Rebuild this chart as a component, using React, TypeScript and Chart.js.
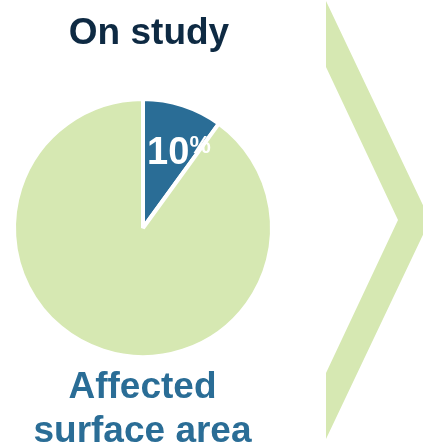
import React, { useEffect, useRef } from 'react';
import { Chart, registerables } from 'chart.js';

Chart.register(...registerables);

const sliceLabels = ['Affected surface area', 'Unaffected'];
const sliceValues = [10, 90];
const sliceColors = ['#2a6d96', '#d6e8b2'];
const titleText = 'On study';
const captionLines = ['Affected', 'surface area'];
const valueSuffix = '%';
const chevronColor = '#d6e8b2';
const chevronPoints: [number, number][] = [
  [326, 1], [430, 220], [326, 439], [326, 373], [398, 220], [326, 67],
];

const FONT = '"Liberation Sans", Arial, sans-serif';

const chevronPlugin = {
  id: 'chevron',
  beforeDraw(chart: any) {
    const ctx = chart.ctx;
    ctx.save();
    ctx.fillStyle = chevronColor;
    ctx.beginPath();
    chevronPoints.forEach(([x, y], i) => (i === 0 ? ctx.moveTo(x, y) : ctx.lineTo(x, y)));
    ctx.closePath();
    ctx.fill();
    ctx.restore();
  },
};

const sliceLabelPlugin = {
  id: 'sliceLabel',
  afterDatasetsDraw(chart: any) {
    const meta = chart.getDatasetMeta(0);
    const el = meta.data[0];
    if (!el) return;
    const { x, y, startAngle, endAngle, outerRadius } = el.getProps(
      ['x', 'y', 'startAngle', 'endAngle', 'outerRadius'], true);
    const a = startAngle + 0.69 * (endAngle - startAngle);
    const r = outerRadius * 0.663;
    const ax = x + Math.cos(a) * r;
    const ay = y + Math.sin(a) * r;
    const ctx = chart.ctx;
    ctx.save();
    ctx.fillStyle = '#ffffff';
    ctx.textBaseline = 'alphabetic';
    ctx.textAlign = 'left';
    const big = 'bold 38px ' + FONT;
    const small = 'bold 24px ' + FONT;
    const num = String(sliceValues[0]);
    ctx.font = big;
    const w1 = ctx.measureText(num).width;
    ctx.font = small;
    const w2 = ctx.measureText(valueSuffix).width;
    const sx = ax - (w1 + w2) / 2;
    ctx.font = big;
    ctx.fillText(num, sx, ay + 13.5);
    ctx.font = small;
    ctx.fillText(valueSuffix, sx + w1, ay + 2.5);
    ctx.restore();
  },
};

export default function App() {
  const ref = useRef<HTMLCanvasElement>(null);
  useEffect(() => {
    if (!ref.current) return;
    const chart = new Chart(ref.current, {
      type: 'pie',
      data: {
        labels: sliceLabels,
        datasets: [{ data: sliceValues, backgroundColor: sliceColors, borderColor: '#ffffff', borderWidth: 4 }],
      },
      options: {
        responsive: false,
        animation: false,
        devicePixelRatio: 1,
        layout: { padding: { left: 12, top: 97, right: 149, bottom: 88 } },
        plugins: { legend: { display: false }, tooltip: { enabled: false }, title: { display: false } },
      },
      plugins: [chevronPlugin, sliceLabelPlugin],
    });
    let alive = true;
    if (document.fonts && document.fonts.load) {
      Promise.all([
        document.fonts.load('bold 38px "Liberation Sans"'),
        document.fonts.load('bold 24px "Liberation Sans"'),
      ]).then(() => { if (alive) chart.draw(); }).catch(() => {});
    }
    return () => { alive = false; chart.destroy(); };
  }, []);

  return (
    <div style={{ position: 'absolute', left: 0, top: 0, width: 423, height: 447, overflow: 'hidden' }}>
      <canvas ref={ref} width={423} height={447} style={{ position: 'absolute', left: 0, top: 0 }} />
      <div
        style={{
          position: 'absolute', left: 0, top: 13, width: 298, textAlign: 'center',
          fontFamily: FONT, fontWeight: 700, fontSize: 37, lineHeight: '37px', color: '#0e2a43',
          whiteSpace: 'nowrap',
        }}
      >
        {titleText}
      </div>
      <div
        style={{
          position: 'absolute', left: 0, top: 364, width: 285, height: 83, textAlign: 'center',
          fontFamily: FONT, fontWeight: 700, fontSize: 37, lineHeight: '44px', color: '#2a6d96',
          whiteSpace: 'nowrap',
        }}
      >
        {captionLines.map((l, i) => (
          <div key={i}>{l}</div>
        ))}
      </div>
    </div>
  );
}
